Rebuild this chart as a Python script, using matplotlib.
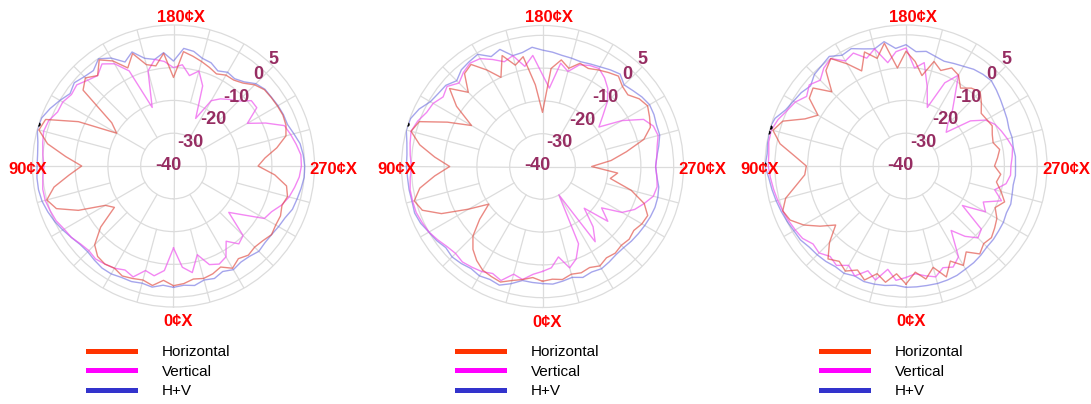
import numpy as np
import matplotlib.pyplot as plt
from matplotlib.lines import Line2D

plt.rcParams['font.family'] = ['Liberation Sans', 'DejaVu Sans']

# measurement angles (deg), 0 = front, clockwise
angles = np.arange(0, 360, 5)

# ---- pattern 1 (dB) ----
h1 = [-3.5, -5, -3, -4, -3.5, -3, -4, -3.5, -4, -6, -11, -18, -16, -8, -2, 0, -3, -8,
      -12, -7, -1, 2.5, 1.5, -8, -20, -17, -4, -2, -4, -0.5, -3, -7, -3.5, -8, -9, -5.5,
      -13, -5, -6, -7, -8, -9, -8, -8, -7, -5, -3.8, -3.6, -3.4, -3.2, -3.5, -4.5, -8, -12,
      -14.2, -9, -5, -4, -4.8, -4, -4, -3.5, -4.5, -5, -4.5, -5.5, -4, -6, -5, -4.5, -5, -4]
v1 = [-15, -8, -6, -7, -4, -5, -4, -3.5, -3, -3.5, -3, -2, -1.5, -0.5, 0, 0.5, 0.5, 0,
      -0.5, 0, 0.5, 1, 0.5, -1, -1, -2, -1.5, -3, -4, -2, -4, -8, -21, -10, -7, -8,
      -10, -9, -12, -10, -14, -24, -17, -15, -13.5, -12, -9, -9, -14, -9, -4, -3, -2, -1,
      -1, -1.5, -2.5, -3.5, -5, -7, -8, -14, -18, -10, -9, -12, -8, -7, -8, -12, -7, -9]
hv1 = [-3, -3.5, -2.5, -3, -2.5, -2.5, -2, -2, -2.5, -3, -2.8, -2, -1, 0, 0.8, 1.5, 1.8, 1.8,
       1.6, 1.6, 2, 3, 2.8, 1.5, 0, -1.5, -0.5, -1.5, -2, -0.1, -2, -5, -3, -6, -7, -5.3,
       -8, -4, -4.5, -6, -6.5, -8, -7, -7.5, -6.5, -4.5, -3.6, -3.5, -3.2, -3, -3, -2, -0.8, -0.3,
       0, 0, -0.5, -1, -1.4, -2.5, -3, -3.5, -3.6, -3.2, -4, -4.2, -3.5, -4.5, -3.5, -4, -3, -3.5]

# ---- pattern 2 (dB) ----
h2 = [-5, -6, -5, -4, -2.5, -3, -3.5, -5, -7, -10, -15, -20, -14, -6, -1, 0.5, -2, -7,
      -11.7, -7, -2, 1.5, 0, -8, -15, -8, -3, -8, -3, -2, -6, -10, -4, -8, -6, -15,
      -23.5, -10, -7, -9, -6.5, -7, -6, -5, -4, -5.5, -6, -4, -3, -4, -5, -8, -14, -19,
      -25, -17, -19, -12, -7, -4.6, -5, -6, -5.5, -6, -5.5, -6, -5, -6, -5.5, -6, -5, -5.5]
v2 = [-8, -7, -5, -6, -3, -4, -3, -2.5, -2, -2.5, -2, -1, 0, 0.5, 1, 1, 1, 0.5,
      0, 0.5, 1, 1.5, 0.5, -1, -1.5, -3, -2, -4, -2.5, -1.5, -2, -4, -6, -5, -9, -6,
      -12, -16, -8, -10, -7, -6, -5.5, -7, -9, -12, -16, -19, -12, -6, -4, -3.5, -4.5, -5,
      -5.5, -5, -4.5, -5, -7, -9, -12, -18, -14, -22, -16, -12, -30, -14, -10, -8, -12, -9]
hv2 = [-4.3, -4.5, -4.7, -3, -1.5, -2, -1.5, -2, -1.4, -1, -1.5, -0.6, 0, 1, 1.5, 1.2, 1.3, 1.3,
       1.5, 1.5, 2, 3, 2.8, 1.5, -0.5, -1.2, -1.5, -3, -1.5, -1, -0.5, -3, -2, -5, -4.7, -3.5,
       -4.5, -5, -5.6, -5.8, -6, -5.5, -4.9, -4, -3.2, -4.8, -4, -3, -2.3, -2.5, -3, -3, -4, -5,
       -5.5, -5, -4, -3.6, -3.5, -3.7, -4, -4.3, -4.6, -5, -5, -4.5, -4, -4.5, -4, -5, -4.5, -4]

# ---- pattern 3 (dB) ----
h3 = [-4, -7, -4, -6, -3, -5, -3, -4.5, -3, -7, -12, -8, -4, -1, 0, -2, -6, -9,
      -9.6, -6, -1, 2, 0, -6, -9, -4, -3, -8, -2, 0, -4, -8, -3, -6, -2, -10,
      -5, -8, -12, -7, -9, -7, -8, -11, -9, -8, -10, -12, -11.6, -11, -12, -12.5, -11, -12,
      -13, -11, -12, -10, -8, -10, -8, -7, -6, -6.5, -5, -8, -5, -8, -4, -8, -5, -7.5]
v3 = [-6, -5, -8, -4, -6, -3, -5, -3, -4, -2.5, -3, -1.5, -1, -0.5, 0, 0.5, 1, 1.5,
      2, 2, 2.5, 2.5, 1.5, 0, -1, -3, -1.5, -3, -1, 0, -3, -2, -5, -3, -8, -5,
      -4, -10, -8, -15, -21, -12, -8, -14, -18, -22, -24, -16, -12, -10, -9, -8, -7, -7.5,
      -8, -8, -9, -12, -9, -14, -12, -19, -10, -9, -12, -16, -8, -6, -7, -5, -6, -7]
hv3 = [-3, -3.5, -3, -2.7, -2.5, -3, -2.2, -2.5, -2, -1.7, -1.5, -0.7, -0.5, 0, 0.5, 1, 1.5, 2,
       3, 2.5, 2.8, 3.3, 2.5, 0.5, -0.4, -1, -2, -0.5, 0, 0.8, -1, -0.5, -2, -3, -1.5, -4,
       -3, -5, -4.5, -5.4, -6, -5.5, -4.9, -4, -3.5, -3.2, -4, -4.8, -5.5, -6, -6.6, -6.5, -6.8, -6.5,
       -6.6, -6.5, -6.8, -6.5, -6, -6.2, -5.7, -5.5, -5.2, -5.1, -4.5, -4, -3.7, -3.2, -3, -2.9, -3, -3]

# peak markers (angle deg, dB)
peaks = [([107], [3.3]), ([107.5], [3.2]), ([104, 106, 91], [3.3, 3.2, 3.2])]

patterns = [(h1, v1, hv1), (h2, v2, hv2), (h3, v3, hv3)]
r_ticks = [-40, -30, -20, -10, 0, 5]
angle_labels = {0: '0¢X', 90: '90¢X', 180: '180¢X', 270: '270¢X'}
series_names = ['Horizontal', 'Vertical', 'H+V']

W, H = 1091, 404
centers = [(173.5, 166), (542.5, 166.5), (906, 166)]
RAD = 141
R_MIN, R_MAX = -40, 3
grid_c = '#dcdcdc'

fig = plt.figure(figsize=(W / 100, H / 100), dpi=100)

for (cx, cy), (h, v, hv), (pa, pv) in zip(centers, patterns, peaks):
    ax = fig.add_axes([(cx - RAD) / W, 1 - (cy + RAD) / H, 2 * RAD / W, 2 * RAD / H],
                      projection='polar')
    ax.set_theta_zero_location('S')
    ax.set_theta_direction(-1)
    ax.set_rlim(R_MIN, R_MAX)
    ax.set_yticks([-30, -20, -10, 0])
    ax.set_yticklabels([])
    ax.set_xticks([])
    ax.yaxis.grid(True, color=grid_c, lw=0.9)
    ax.xaxis.grid(False)
    ax.spines['polar'].set_color(grid_c)
    ax.spines['polar'].set_linewidth(0.9)

    # spokes: main cross from centre, finer ones start further out
    for a in range(0, 360, 15):
        t = np.deg2rad(a)
        if a % 90 == 0:
            r0 = R_MIN
        elif a % 30 == 0:
            r0 = -30
        else:
            r0 = -20
        ax.plot([t, t], [r0, R_MAX], color=grid_c, lw=0.9, zorder=1)

    th = np.deg2rad(np.append(angles, 360))
    close = lambda s: np.append(s, s[0])
    ax.plot(th, close(hv), color='#6a6ae0', lw=1.0, alpha=0.6, zorder=3)
    ax.plot(th, close(v), color='#ee55ee', lw=1.0, alpha=0.7, zorder=4)
    ax.plot(th, close(h), color='#e04a40', lw=1.0, alpha=0.65, zorder=5)
    ax.plot(np.deg2rad(pa), pv, 'o', color='black', ms=2.2, zorder=6)

    # radial scale labels along the upper-right diagonal
    px_per_db = RAD / (R_MAX - R_MIN)
    for rv in r_ticks:
        d = (rv - R_MIN) * px_per_db
        extra = 4 if rv > R_MAX else 0
        ax.annotate(str(rv), xy=(0.5, 0.5), xycoords='axes fraction',
                    xytext=(-5.5 + 0.69 * d + extra, 1 + 0.69 * d + extra),
                    textcoords='offset pixels', ha='center', va='center',
                    fontsize=13, fontweight='bold', color='#962d62', zorder=8,
                    annotation_clip=False)

    # compass labels
    offs = {0: (5, -156), 90: (-146, -3), 180: (7, 149), 270: (160, -3)}
    for a, lab in angle_labels.items():
        ax.annotate(lab, xy=(0.5, 0.5), xycoords='axes fraction', xytext=offs[a],
                    textcoords='offset pixels', ha='center', va='center',
                    fontsize=12, fontweight='bold', color='#ff0000', zorder=8,
                    annotation_clip=False)

    handles = [Line2D([], [], color='#ff3300', lw=3.6),
               Line2D([], [], color='#ff00ff', lw=3.6),
               Line2D([], [], color='#3333cc', lw=3.6)]
    fig.legend(handles, series_names, loc='upper left',
               bbox_to_anchor=((cx - 85.5) / W, 1 - 345 / H), frameon=False,
               fontsize=11, handlelength=3.1, handletextpad=1.75, labelspacing=0.36,
               borderpad=0, borderaxespad=0)

fig.savefig('out.png', dpi=100)
